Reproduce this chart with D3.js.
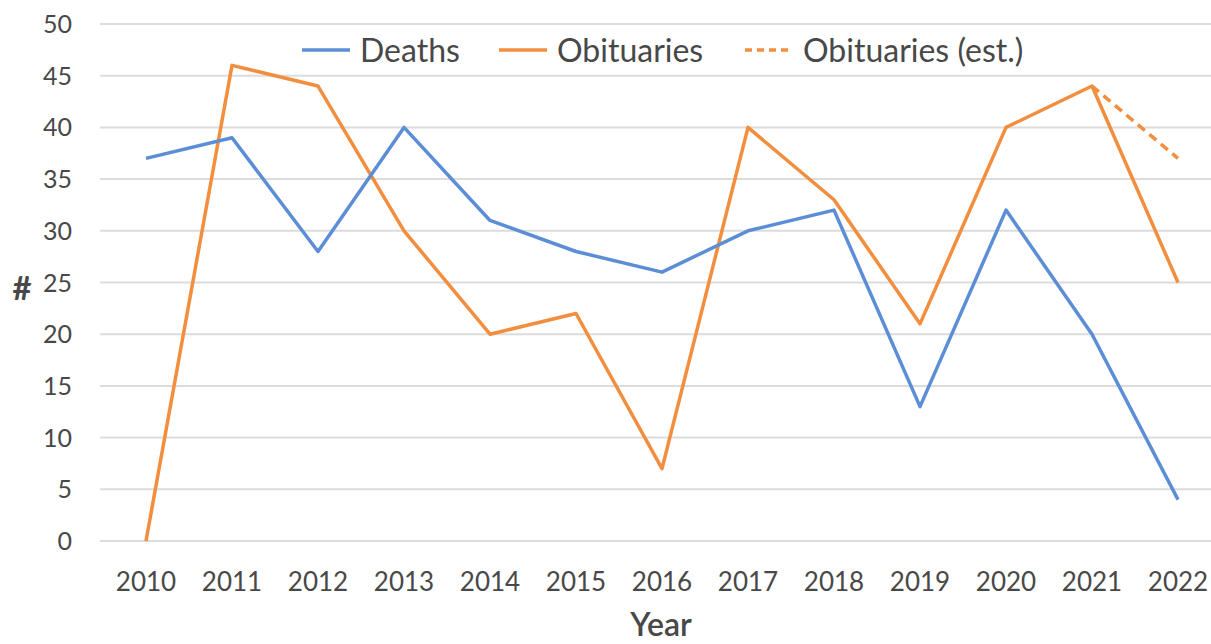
<!DOCTYPE html>
<html>
<head>
<meta charset="utf-8">
<script src="https://cdn.jsdelivr.net/npm/d3@7"></script>
<style>
  body { margin: 0; background: #fff; }
  text { font-family: Lato, "Open Sans", sans-serif; fill: #484848; }
</style>
</head>
<body>
<div id="chart"></div>
<script>
// Data
const years = ["2010", "2011", "2012", "2013", "2014", "2015", "2016", "2017", "2018", "2019", "2020", "2021", "2022"];
const deaths = [37, 39, 28, 40, 31, 28, 26, 30, 32, 13, 32, 20, 4];
const obituaries = [0, 46, 44, 30, 20, 22, 7, 40, 33, 21, 40, 44, 25];
const estYears = ["2021", "2022"];
const obituariesEst = [44, 37];
const yTicks = [0, 5, 10, 15, 20, 25, 30, 35, 40, 45, 50];

const width = 1211, height = 644;
const blue = "#5b8ed6", orange = "#f28e3e";

const svg = d3.select("#chart").append("svg")
  .attr("width", width)
  .attr("height", height);

const x = d3.scalePoint().domain(years).range([146, 1178]);
const y = d3.scaleLinear().domain([0, 50]).range([541, 24]);

// gridlines
svg.append("g")
  .selectAll("line")
  .data(yTicks)
  .join("line")
  .attr("x1", 100).attr("x2", 1224)
  .attr("y1", d => y(d)).attr("y2", d => y(d))
  .attr("stroke", "#dcdcdc")
  .attr("stroke-width", 2);

// y tick labels
svg.append("g")
  .selectAll("text")
  .data(yTicks)
  .join("text")
  .attr("x", 72)
  .attr("y", d => y(d))
  .attr("dy", "0.36em")
  .attr("text-anchor", "end")
  .attr("font-size", 25)
  .text(d => d);

// x tick labels
svg.append("g")
  .selectAll("text")
  .data(years)
  .join("text")
  .attr("x", d => x(d))
  .attr("y", 591)
  .attr("text-anchor", "middle")
  .attr("font-size", 26)
  .text(d => d);

// axis titles
svg.append("text")
  .attr("x", 661).attr("y", 636)
  .attr("text-anchor", "middle")
  .attr("font-size", 32)
  .attr("font-weight", 600)
  .text("Year");

svg.append("text")
  .attr("x", 22).attr("y", 300)
  .attr("text-anchor", "middle")
  .attr("font-size", 33)
  .attr("font-weight", "bold")
  .text("#");

const line = d3.line()
  .x(d => x(d[0]))
  .y(d => y(d[1]));

svg.append("path")
  .attr("d", line(d3.zip(estYears, obituariesEst)))
  .attr("fill", "none")
  .attr("stroke", orange)
  .attr("stroke-width", 3.5)
  .attr("stroke-dasharray", "9,6");

svg.append("path")
  .attr("d", line(d3.zip(years, obituaries)))
  .attr("fill", "none")
  .attr("stroke", orange)
  .attr("stroke-width", 3.5)
  .attr("stroke-linejoin", "round");

svg.append("path")
  .attr("d", line(d3.zip(years, deaths)))
  .attr("fill", "none")
  .attr("stroke", blue)
  .attr("stroke-width", 3.5)
  .attr("stroke-linejoin", "round");

// legend
const legendItems = [
  {name: "Deaths", color: blue, dash: null, x: 302},
  {name: "Obituaries", color: orange, dash: null, x: 499},
  {name: "Obituaries (est.)", color: orange, dash: "7,5", x: 745}
];
const legend = svg.append("g")
  .selectAll("g")
  .data(legendItems)
  .join("g")
  .attr("transform", d => `translate(${d.x},50)`);
legend.append("line")
  .attr("x1", 0).attr("x2", 48)
  .attr("stroke", d => d.color)
  .attr("stroke-width", 3.5)
  .attr("stroke-dasharray", d => d.dash);
legend.append("text")
  .attr("x", 58)
  .attr("dy", "0.36em")
  .attr("font-size", 32)
  .text(d => d.name);
</script>
</body>
</html>
